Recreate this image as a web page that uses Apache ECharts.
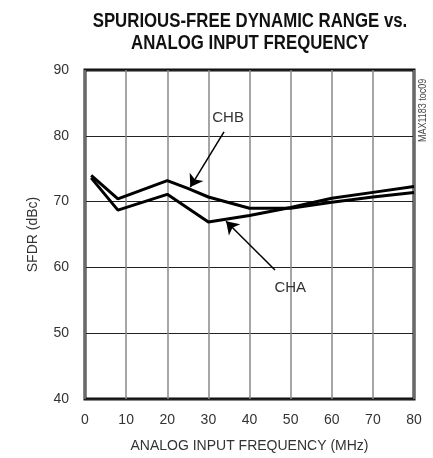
<!DOCTYPE html>
<html>
<head>
<meta charset="utf-8">
<script src="https://cdn.jsdelivr.net/npm/echarts@6/dist/echarts.min.js"></script>
<style>
  html, body { margin: 0; padding: 0; background: #fff; }
  #chart { width: 433px; height: 458px; }
</style>
</head>
<body>
<div id="chart"></div>
<script>
  // data
  const xTicks = [0, 10, 20, 30, 40, 50, 60, 70, 80]
  const yTicks = [40, 50, 60, 70, 80, 90]

  const freqA = [1.5, 8, 20, 30, 40, 50, 60, 70, 80]
  const sfdrA = [73.6, 68.7, 71.1, 66.9, 67.9, 69.1, 70.5, 71.4, 72.3]

  const freqB = [1.5, 8, 20, 25, 30, 40, 50, 60, 70, 80]
  const sfdrB = [74.0, 70.4, 73.2, 72.0, 70.7, 69.0, 69.0, 69.9, 70.7, 71.4]

  const titleLines = ['SPURIOUS-FREE DYNAMIC RANGE vs.', 'ANALOG INPUT FREQUENCY']

  const font = '"Liberation Sans", Arial, sans-serif'
  const pairs = (xs, ys) => xs.map((x, i) => [x, ys[i]])

  const chart = echarts.init(document.getElementById('chart'))

  // no narrow font installed, so the title is squeezed horizontally
  const titleGraphics = titleLines.map((t, i) => ({
    type: 'text',
    x: 250,
    y: 21 + i * 22,
    scaleX: 0.84,
    style: {
      text: t,
      fontFamily: font,
      fontWeight: 'bold',
      fontSize: 20,
      fill: '#111',
      textAlign: 'center',
      textVerticalAlign: 'middle'
    }
  }))

  chart.setOption({
    animation: false,
    grid: {
      left: 85, right: 19, top: 70, bottom: 59,
      show: true,
      borderColor: '#111',
      borderWidth: 3
    },
    xAxis: {
      type: 'value',
      min: xTicks[0], max: xTicks[xTicks.length - 1], interval: 10,
      name: 'ANALOG INPUT FREQUENCY (MHz)',
      nameLocation: 'middle',
      nameGap: 40,
      nameTextStyle: {fontFamily: font, fontSize: 14, color: '#333'},
      axisLine: {show: false},
      axisTick: {show: false},
      axisLabel: {fontFamily: font, fontSize: 14, color: '#333', margin: 14},
      splitLine: {lineStyle: {color: '#888', width: 1.5}}
    },
    yAxis: {
      type: 'value',
      min: yTicks[0], max: yTicks[yTicks.length - 1], interval: 10,
      name: 'SFDR (dBc)',
      nameLocation: 'middle',
      nameGap: 45,
      nameTextStyle: {fontFamily: font, fontSize: 14, color: '#333'},
      axisLine: {show: false},
      axisTick: {show: false},
      axisLabel: {fontFamily: font, fontSize: 14, color: '#333', margin: 16},
      splitLine: {lineStyle: {color: '#222', width: 1}}
    },
    series: [
      {
        name: 'CHA',
        type: 'line',
        data: pairs(freqA, sfdrA),
        symbol: 'none',
        lineStyle: {color: '#000', width: 3},
        markLine: {
          silent: true,
          symbol: ['none', 'arrow'],
          symbolSize: 12,
          label: {show: false},
          lineStyle: {color: '#000', width: 1.5, type: 'solid'},
          data: [[{coord: [46.2, 59.6]}, {coord: [34.3, 67.0]}]]
        },
        markPoint: {
          symbolSize: 0,
          label: {show: true, formatter: '{b}', fontFamily: font, fontSize: 15, color: '#333'},
          data: [{name: 'CHA', coord: [49.9, 56.9]}]
        }
      },
      {
        name: 'CHB',
        type: 'line',
        data: pairs(freqB, sfdrB),
        symbol: 'none',
        lineStyle: {color: '#000', width: 3},
        markLine: {
          silent: true,
          symbol: ['none', 'arrow'],
          symbolSize: 12,
          label: {show: false},
          lineStyle: {color: '#000', width: 1.5, type: 'solid'},
          data: [[{coord: [33.8, 80.6]}, {coord: [25.6, 72.2]}]]
        },
        markPoint: {
          symbolSize: 0,
          label: {show: true, formatter: '{b}', fontFamily: font, fontSize: 15, color: '#333'},
          data: [{name: 'CHB', coord: [34.8, 82.7]}]
        }
      }
    ],
    graphic: titleGraphics.concat([{
      type: 'text',
      x: 418,
      y: 142,
      rotation: Math.PI / 2,
      scaleX: 0.9,
      style: {
        text: 'MAX1183 toc09',
        fontFamily: font,
        fontSize: 10,
        fill: '#444'
      }
    }])
  })
</script>
</body>
</html>
